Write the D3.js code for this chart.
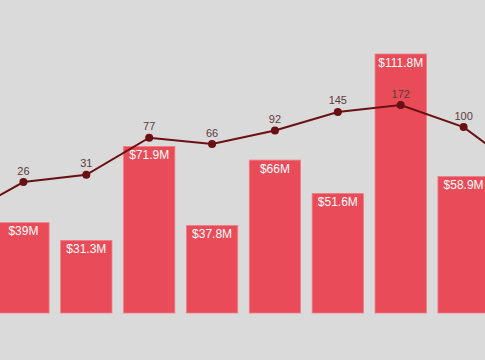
<!DOCTYPE html>
<html>
<head>
<meta charset="utf-8">
<script src="https://cdn.jsdelivr.net/npm/d3@7"></script>
<style>
  html, body { margin: 0; padding: 0; background: #dadada; }
  svg { display: block; }
</style>
</head>
<body>
<svg id="chart" width="485" height="360"></svg>
<script>
// Categories (first and last are off-screen, only the line passes through them)
const categories = ["c0", "c1", "c2", "c3", "c4", "c5", "c6", "c7", "c8", "c9"];
// Bar values in $M (null = off-screen, no bar visible)
const barValues = [null, 39, 31.3, 71.9, 37.8, 66, 51.6, 111.8, 58.9, null];
const barLabels = [null, "$39M", "$31.3M", "$71.9M", "$37.8M", "$66M", "$51.6M", "$111.8M", "$58.9M", null];
// Line values (log scale); the end points are estimated off-screen values
const lineValues = [11, 26, 31, 77, 66, 92, 145, 172, 100, 32];
const lineLabels = [null, "26", "31", "77", "66", "92", "145", "172", "100", null];

const svg = d3.select("#chart");

const x = d3.scaleBand()
  .domain(categories)
  .range([-70.9, 557.9])
  .paddingInner(0.184)
  .paddingOuter(0.092);

const yBar = d3.scaleLinear().domain([0, 111.8]).range([313, 54]);
const yLine = d3.scaleLog().domain([1, 172]).range([314.8, 105]);

const barData = categories.map((c, i) => ({ c, v: barValues[i], label: barLabels[i] }))
  .filter(d => d.v != null);

svg.append("g").selectAll("rect")
  .data(barData)
  .join("rect")
  .attr("x", d => x(d.c))
  .attr("y", d => yBar(d.v))
  .attr("width", x.bandwidth())
  .attr("height", d => yBar(0) - yBar(d.v))
  .attr("fill", "#e94c58")
  .attr("stroke", "#f07c86")
  .attr("stroke-width", 0.8);

svg.append("g").selectAll("text")
  .data(barData)
  .join("text")
  .attr("x", d => x(d.c) + x.bandwidth() / 2)
  .attr("y", d => yBar(d.v) + 12.5)
  .attr("text-anchor", "middle")
  .attr("font-family", "Liberation Sans, Arial, sans-serif")
  .attr("font-size", 12)
  .attr("fill", "#ffffff")
  .text(d => d.label);

const lineData = categories.map((c, i) => ({ c, v: lineValues[i], label: lineLabels[i] }));

const line = d3.line()
  .x(d => x(d.c) + x.bandwidth() / 2)
  .y(d => yLine(d.v));

svg.append("path")
  .datum(lineData)
  .attr("d", line)
  .attr("fill", "none")
  .attr("stroke", "#6a0f12")
  .attr("stroke-width", 2);

const pts = lineData.filter(d => d.label != null);

svg.append("g").selectAll("circle")
  .data(pts)
  .join("circle")
  .attr("cx", d => x(d.c) + x.bandwidth() / 2)
  .attr("cy", d => yLine(d.v))
  .attr("r", 4)
  .attr("fill", "#6a0f12");

svg.append("g").selectAll("text")
  .data(pts)
  .join("text")
  .attr("x", d => x(d.c) + x.bandwidth() / 2)
  .attr("y", d => yLine(d.v) - 7.5)
  .attr("text-anchor", "middle")
  .attr("font-family", "Liberation Sans, Arial, sans-serif")
  .attr("font-size", 11)
  .attr("fill", "#5e3a3a")
  .text(d => d.label);
</script>
</body>
</html>
